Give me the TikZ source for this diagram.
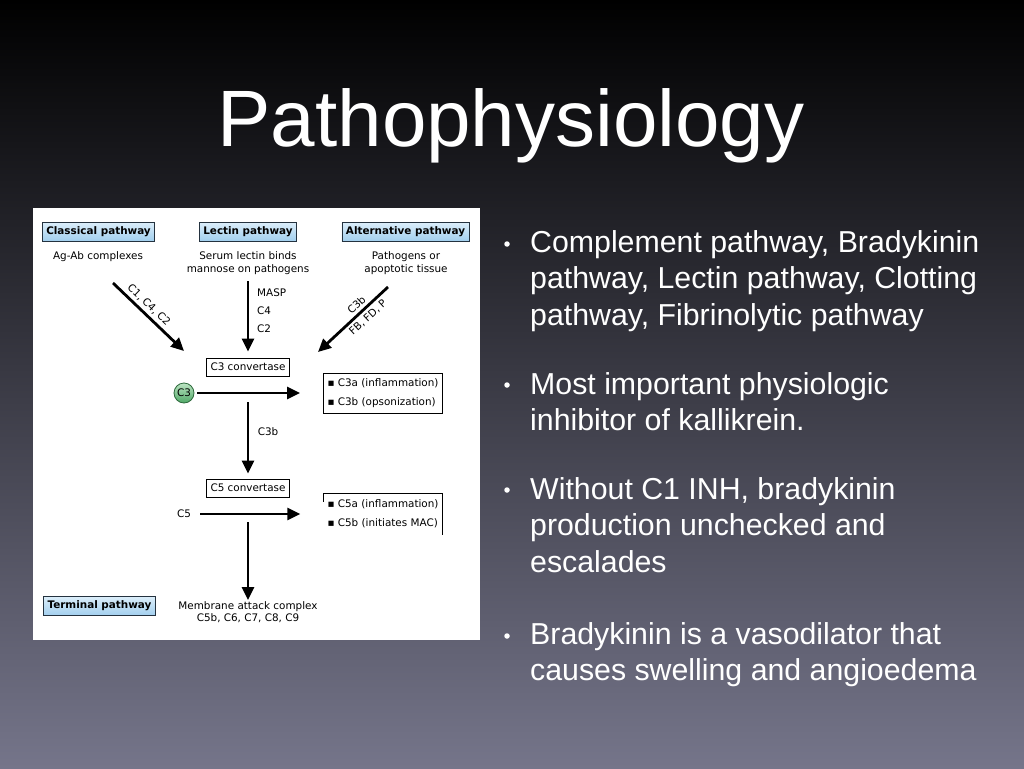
\documentclass[tikz,border=0pt]{standalone}
\usepackage{fontspec}
\setmainfont{Liberation Sans}
\newfontfamily\figfont{DejaVu Sans}
\usepackage{xcolor}
\definecolor{SlideMid}{HTML}{2A2A3E}
\definecolor{SlideLow}{HTML}{75758A}
\definecolor{PathTop}{HTML}{DCEEFA}
\definecolor{PathLow}{HTML}{A2CFEE}
\definecolor{PathEdge}{HTML}{24323F}
\definecolor{CompGreen}{HTML}{4FA866}
\definecolor{CompLight}{HTML}{BCE4C3}
\definecolor{CompEdge}{HTML}{2D6A3C}
\usetikzlibrary{arrows.meta,positioning,calc}

\begin{document}
\begin{tikzpicture}[x=1pt,y=-1pt,
pathbox/.style={draw=PathEdge,line width=0.8pt,top color=PathTop,bottom color=PathLow,minimum height=19pt,inner xsep=4pt,inner ysep=0pt,font=\figfont\fontsize{10.4}{12}\selectfont\bfseries},
convbox/.style={draw=black,line width=0.8pt,fill=white,minimum height=18pt,inner xsep=4pt,inner ysep=0pt,font=\figfont\fontsize{10.4}{12}\selectfont},
lbl/.style={inner sep=0pt,align=center,font=\figfont\fontsize{10.4}{12.5}\selectfont},
flow/.style={line width=2.8pt,-{Triangle[length=13pt,width=12pt]}},
bullettext/.style={anchor=north west,inner sep=0pt,align=left,text=white,font=\fontsize{30.3}{36.6}\selectfont},
dot/.style={circle,fill=white,inner sep=0pt,minimum size=5.5pt}]
\useasboundingbox (0,0) rectangle (1024,768);
\shade[top color=black,middle color=SlideMid,bottom color=SlideLow] (0,0) rectangle (1024,768);
\node[anchor=base,text=white,inner sep=0pt,font=\fontsize{80}{90}\selectfont] (title) at (511,146) {Pathophysiology};

% complement cascade figure
\fill[white] (33,208) rectangle (480,640);
\node[pathbox] (classical) at (98.5,231.5) {Classical pathway};
\node[pathbox] (lectin) at (248,231.5) {Lectin pathway};
\node[pathbox] (alternative) at (405.5,231.5) {Alternative pathway};
\node[lbl] (agab) at (98,257) {Ag-Ab complexes};
\node[lbl] (mannose) at (248,263) {Serum lectin binds\\mannose on pathogens};
\node[lbl] (pathogens) at (406,263) {Pathogens or\\apoptotic tissue};
\node[lbl,align=left,anchor=west,font=\figfont\fontsize{10.4}{18}\selectfont] (masp) at (257,311) {MASP\\C4\\C2};
\node[convbox] (c3conv) at (248,367) {C3 convertase};
\node[circle,draw=CompEdge,line width=0.8pt,top color=CompLight,bottom color=CompGreen,minimum size=20pt,inner sep=0pt,font=\figfont\fontsize{10.4}{12}\selectfont] (c3) at (184,393) {C3};
\node[lbl,draw=black,line width=0.8pt,align=left,minimum width=116pt,minimum height=40pt,inner xsep=4pt,font=\figfont\fontsize{10.4}{19}\selectfont] (c3prod) at (383,393) {▪ C3a (inflammation)\\▪ C3b (opsonization)};
\node[lbl] (c3b) at (268,432) {C3b};
\node[convbox] (c5conv) at (248,488) {C5 convertase};
\node[lbl] (c5) at (184,514) {C5};
\node[lbl,align=left,minimum width=116pt,minimum height=40pt,inner xsep=4pt,font=\figfont\fontsize{10.4}{19}\selectfont] (c5prod) at (383,514) {▪ C5a (inflammation)\\▪ C5b (initiates MAC)};
\draw[line width=0.8pt] ($(c5prod.north west)+(0,8)$) -- (c5prod.north west) -- (c5prod.north east) -- ($(c5prod.north east)+(0,41)$);
\node[pathbox] (terminal) at (99.5,606) {Terminal pathway};
\node[lbl] (mac) at (248,612) {Membrane attack complex\\C5b, C6, C7, C8, C9};

\coordinate (clsfrom) at (113,283);
\coordinate (clsto) at (184,351);
\coordinate (altfrom) at (388,287);
\coordinate (altto) at (318,352);
\coordinate (split3) at (248,402);
\coordinate (split5) at (248,522);
\draw[flow] (clsfrom) -- node[lbl,sloped,above=3pt,pos=0.42]{C1, C4, C2} (clsto);
\draw[flow] (altfrom) -- node[lbl,sloped,above=3pt,pos=0.37]{C3b} node[lbl,sloped,below=3pt,pos=0.37]{FB, FD, P} (altto);
\draw[flow,shorten <=7pt,shorten >=6pt] (mannose.south -| c3conv) -- (c3conv.north);
\draw[flow,shorten <=3pt,shorten >=23pt] (c3) -- (c3prod.west |- c3);
\draw[flow,shorten >=5pt] (split3) -- (c5conv.north);
\draw[flow,shorten <=9pt,shorten >=23pt] (c5) -- (c5prod.west |- c5);
\draw[flow,shorten >=1pt] (split5) -- (mac.north);

\node[bullettext] (p1) at (530,230) {Complement pathway, Bradykinin\\pathway, Lectin pathway, Clotting\\pathway, Fibrinolytic pathway};
\node[bullettext] (p2) at (530,372) {Most important physiologic\\inhibitor of kallikrein.};
\node[bullettext] (p3) at (530,477) {Without C1 INH, bradykinin\\production unchecked and\\escalades};
\node[bullettext] (p4) at (530,622) {Bradykinin is a vasodilator that\\causes swelling and angioedema};
\node[dot] (d1) at (507,244) {};
\node[dot] (d2) at (507,385) {};
\node[dot] (d3) at (507,490) {};
\node[dot] (d4) at (507,636) {};
\end{tikzpicture}
\end{document}
